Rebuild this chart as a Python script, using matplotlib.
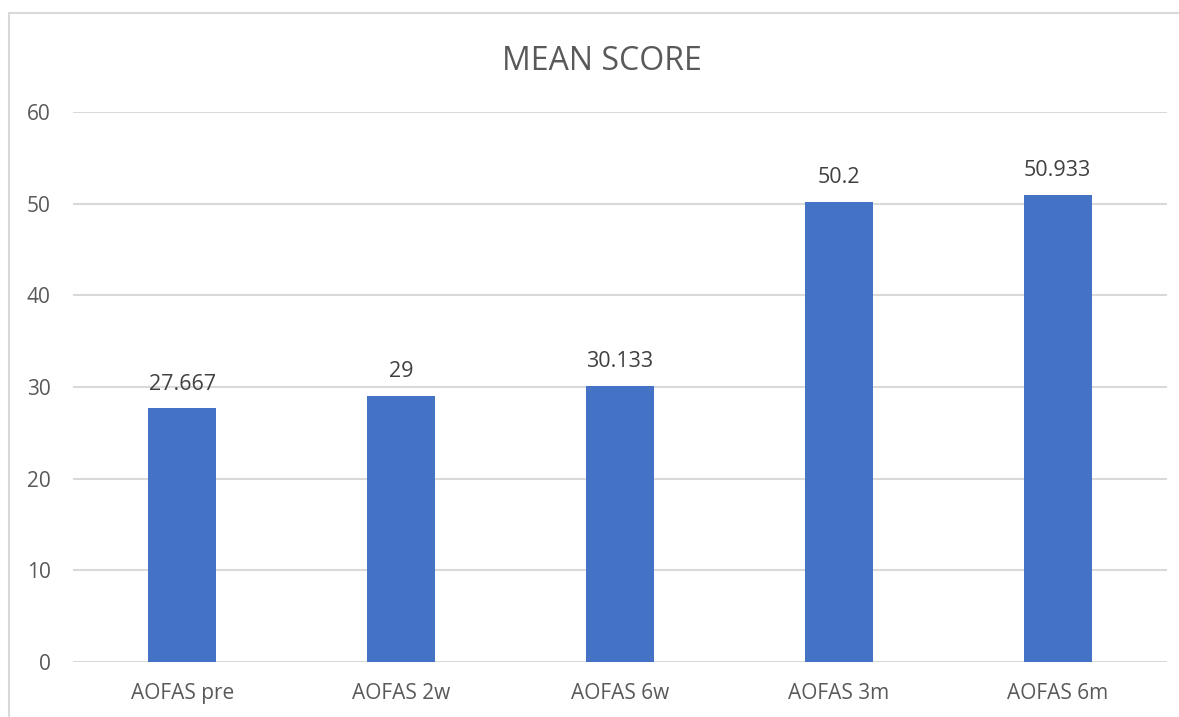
import matplotlib
matplotlib.use("Agg")
import matplotlib.pyplot as plt
from matplotlib.patches import Rectangle

categories = ["AOFAS pre", "AOFAS 2w", "AOFAS 6w", "AOFAS 3m", "AOFAS 6m"]
values = [27.667, 29, 30.133, 50.2, 50.933]
value_labels = ["27.667", "29", "30.133", "50.2", "50.933"]
yticks = [0, 10, 20, 30, 40, 50, 60]

plt.rcParams['font.family'] = ['Open Sans', 'DejaVu Sans']
text_color = "#595959"
grid_color = "#D9D9D9"
bar_color = "#4472C4"

W, H = 1179, 717
fig = plt.figure(figsize=(W / 100, H / 100), dpi=100)

# chart frame
fig.patches.append(Rectangle((9 / W, -0.05), 1.2, (H - 13) / H + 0.05,
                             transform=fig.transFigure, fill=False,
                             edgecolor=grid_color, linewidth=1.5))

left, right = 73 / W, 1167 / W
top, bottom = 1 - 112 / H, 1 - 662 / H
ax = fig.add_axes([left, bottom, right - left, top - bottom])

x = range(len(categories))
ax.bar(x, values, width=0.31, color=bar_color, zorder=3)
ax.set_xlim(-0.5, len(categories) - 0.5)
ax.set_ylim(0, 60)
ax.set_yticks(yticks)
ax.set_xticks(list(x))
ax.set_xticklabels(categories)

for s in ax.spines.values():
    s.set_visible(False)
ax.yaxis.grid(True, color=grid_color, linewidth=1.5, zorder=0)
ax.tick_params(axis='both', length=0, labelsize=15, labelcolor=text_color)
ax.tick_params(axis='y', pad=16)
ax.tick_params(axis='x', pad=15)

for xi, v, lab in zip(x, values, value_labels):
    ax.annotate(lab, (xi, v), xytext=(0, 17.5), textcoords='offset points',
                ha='center', va='center', fontsize=15.5, color="#404040")

fig.text(602 / W, 1 - 62 / H, "MEAN SCORE", ha='center', va='center',
         fontsize=23, color=text_color)

fig.savefig("out.png", dpi=100)
